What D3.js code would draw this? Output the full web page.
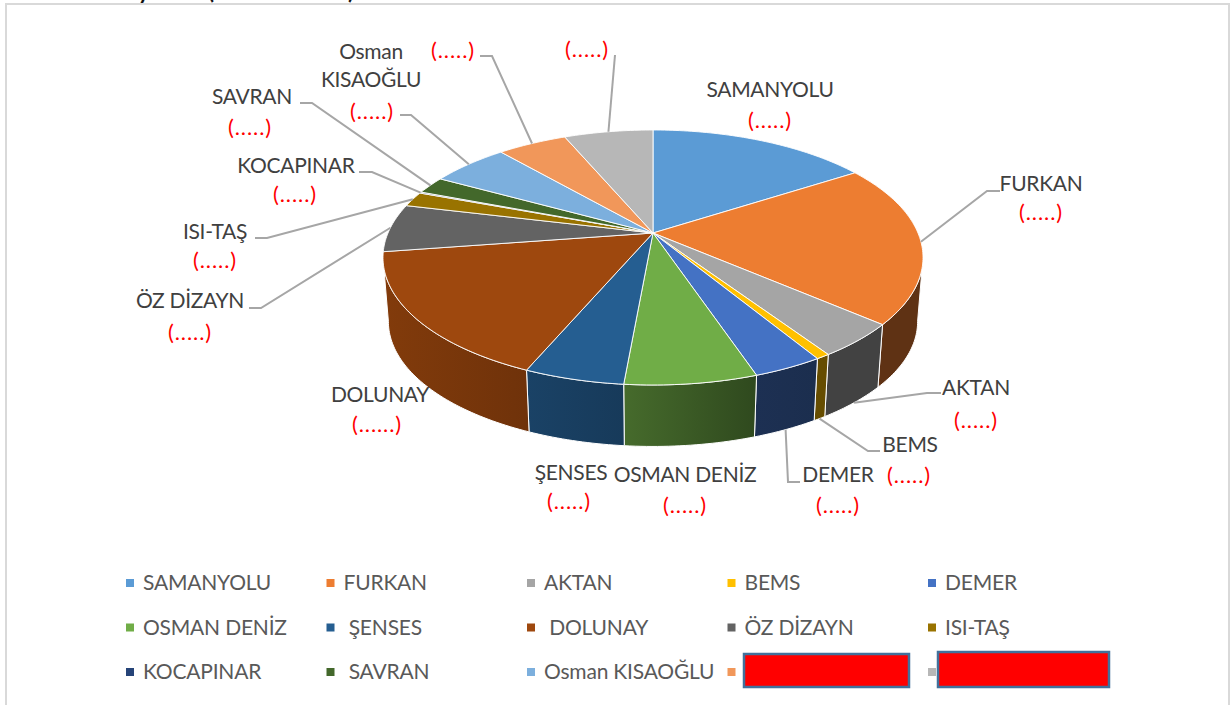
<!DOCTYPE html>
<html>
<head>
<meta charset="utf-8">
<script src="https://cdn.jsdelivr.net/npm/d3@7"></script>
<style>
  html, body { margin: 0; padding: 0; background: #fff; overflow: hidden; }
  svg { display: block; }
  text { font-family: Lato, "Open Sans", sans-serif; }
</style>
</head>
<body>
<svg id="chart" width="1231" height="705"></svg>
<script>
// slices, clockwise from the top; the last two names are hidden behind red boxes
const categories = ['SAMANYOLU', 'FURKAN', 'AKTAN', 'BEMS', 'DEMER', 'OSMAN DENİZ', 'ŞENSES', 'DOLUNAY',
  'ÖZ DİZAYN', 'ISI-TAŞ', 'KOCAPINAR', 'SAVRAN', 'Osman KISAOĞLU', '', ''];
const shares = [15.9, 20.4, 4.3, 0.7, 3.5, 6.6, 5.0, 16.2, 6.1, 1.9, 0.15, 2.2, 5.6, 5.0, 6.4];
const colors = ['#5b9bd5', '#ed7d31', '#a5a5a5', '#ffc000', '#4472c4', '#70ad47', '#255e91', '#9e480e',
  '#636363', '#997300', '#264478', '#43682b', '#7cafdd', '#f1975a', '#b7b7b7'];
const legendNames = ['SAMANYOLU', 'FURKAN', 'AKTAN', 'BEMS', 'DEMER', 'OSMAN DENİZ', ' ŞENSES', ' DOLUNAY',
  'ÖZ DİZAYN', 'ISI-TAŞ', 'KOCAPINAR', ' SAVRAN', 'Osman KISAOĞLU', '', ''];

// label text blocks: [centre x, centre y, text, kind]
const labelLayout = [
  [770, 90, 'SAMANYOLU', 'name'], [770, 120, '(.....)', 'value'],
  [1041, 184, 'FURKAN', 'name'], [1041, 212, '(.....)', 'value'],
  [976, 388, 'AKTAN', 'name'], [976, 420, '(.....)', 'value'],
  [910, 445, 'BEMS', 'name'], [909, 475, '(.....)', 'value'],
  [838, 475, 'DEMER', 'name'], [838, 505, '(.....)', 'value'],
  [685, 475, 'OSMAN DENİZ', 'name'], [685, 505, '(.....)', 'value'],
  [571, 473, 'ŞENSES', 'name'], [569, 501, '(.....)', 'value'],
  [380, 395, 'DOLUNAY', 'name'], [377, 424, '(......)', 'value'],
  [190, 301, 'ÖZ DİZAYN', 'name'], [190, 332, '(.....)', 'value'],
  [215, 232, 'ISI-TAŞ', 'name'], [215, 260, '(.....)', 'value'],
  [296, 166, 'KOCAPINAR', 'name'], [295, 194, '(.....)', 'value'],
  [252, 97, 'SAVRAN', 'name'], [250, 127, '(.....)', 'value'],
  [371, 52, 'Osman', 'name'], [371, 80, 'KISAOĞLU', 'name'], [372, 111, '(.....)', 'value'],
  [453, 50, '(.....)', 'value'], [587, 49, '(.....)', 'value']
];

// leader lines: slice index -> elbow and label end
const leaderLayout = [
  [1, [987, 191], [1000, 191]],
  [2, [927, 393], [941, 393]],
  [3, [868, 451], [880, 451]],
  [4, [788, 482], [800, 482]],
  [8, [261, 308], [249, 308]],
  [9, [267, 238], [255, 238]],
  [10, [372, 172], [359, 172]],
  [11, [312, 103], [300, 103]],
  [12, [411, 115], [400, 115]],
  [13, [492, 56], [480, 56]],
  [14, [615, 55], [615, 55]]
];

const svg = d3.select('#chart');

// perspective projection of the pie disc: a circle on the table seen from above
const cx = 653, cy = 233;
const focal = { a: 265, b: 122.8, k: -0.192 };
const wallDrop = 64.5;
const wallScale = 0.98;

const project = (angle, lower) => {
  const px = Math.sin(angle), py = -Math.cos(angle);
  const den = 1 + focal.k * py;
  const s = lower ? wallScale : 1;
  return [cx + s * focal.a * px / den, cy + (lower ? wallDrop : 0) + s * focal.b * py / den];
};

const pie = d3.pie().sort(null).value(d => d);
const slices = pie(shares);

const rad = d => d * Math.PI / 180;
const deg = r => r * 180 / Math.PI;
const sampleArc = (a0, a1, lower) => {
  const n = Math.max(2, Math.ceil(Math.abs(a1 - a0) / rad(1)));
  return d3.range(n + 1).map(i => project(a0 + (a1 - a0) * i / n, lower));
};
const line = d3.line();

// the frame, and the bottom of the title line cut off above it
const titleFragments = [[138, 'y'], [208, '('], [348, ')']];
svg.selectAll('text.title').data(titleFragments).join('text')
  .attr('class', 'title')
  .attr('x', d => d[0])
  .attr('y', -1)
  .attr('font-size', 22)
  .attr('font-weight', 700)
  .attr('fill', '#111')
  .text(d => d[1]);
svg.append('path')
  .attr('d', 'M6,712V4H1229V712')
  .attr('fill', 'none')
  .attr('stroke', '#d9d9d9')
  .attr('stroke-width', 2);

// side wall
const visibleFrom = rad(101), visibleTo = rad(259);
const wallShade = d3.scaleLinear()
  .domain([115, 150, 161, 185, 203, 259])
  .range([0.4, 0.4, 0.42, 0.62, 0.7, 0.82])
  .clamp(true);
const shadeColor = (c, f) => {
  const rgb = d3.rgb(c);
  return d3.rgb(rgb.r * f, rgb.g * f, rgb.b * f).formatHex();
};

const defs = svg.append('defs');
const walls = slices
  .map((s, i) => ({
    i,
    a0: Math.max(s.startAngle, visibleFrom),
    a1: Math.min(s.endAngle, visibleTo)
  }))
  .filter(w => w.a1 > w.a0);

walls.forEach(w => {
  const grad = defs.append('linearGradient').attr('id', 'wall' + w.i);
  grad.append('stop').attr('offset', '0%')
    .attr('stop-color', shadeColor(colors[w.i], wallShade(deg(w.a1))));
  grad.append('stop').attr('offset', '100%')
    .attr('stop-color', shadeColor(colors[w.i], wallShade(deg(w.a0))));
});

svg.selectAll('path.wall').data(walls).join('path')
  .attr('class', 'wall')
  .attr('d', w => line(sampleArc(w.a0, w.a1, false).concat(sampleArc(w.a1, w.a0, true))) + 'Z')
  .attr('fill', w => `url(#wall${w.i})`)
  .attr('stroke', '#fff')
  .attr('stroke-width', 1);

// top face
svg.selectAll('path.top').data(slices).join('path')
  .attr('class', 'top')
  .attr('d', s => line([[cx, cy]].concat(sampleArc(s.startAngle, s.endAngle, false))) + 'Z')
  .attr('fill', (s, i) => colors[i])
  .attr('stroke', '#fff')
  .attr('stroke-width', 1)
  .attr('stroke-opacity', 0.9)
  .attr('stroke-linejoin', 'round');

// leaders start on the rim at the middle of their slice
const anchorOf = i => {
  const mid = (slices[i].startAngle + slices[i].endAngle) / 2;
  return project(mid, mid > visibleFrom && mid < visibleTo);
};
svg.selectAll('path.leader').data(leaderLayout).join('path')
  .attr('class', 'leader')
  .attr('d', d => line([anchorOf(d[0]), d[1], d[2]]))
  .attr('fill', 'none')
  .attr('stroke', '#a6a6a6')
  .attr('stroke-width', 2);

// labels
svg.selectAll('text.label').data(labelLayout).join('text')
  .attr('class', 'label')
  .attr('x', d => d[0])
  .attr('y', d => d[1])
  .attr('dy', '0.35em')
  .attr('text-anchor', 'middle')
  .attr('font-size', d => d[3] === 'value' ? 22 : 21)
  .attr('letter-spacing', d => d[3] === 'value' ? 0.9 : -0.3)
  .attr('fill', d => d[3] === 'value' ? '#ff0000' : '#404040')
  .text(d => d[2]);

// legend: 5 columns x 3 rows
const columnX = d3.scalePoint().domain(d3.range(5)).range([130, 932]);
const rowY = d3.scalePoint().domain(d3.range(3)).range([583, 672]);
const legend = svg.selectAll('g.legend').data(categories).join('g')
  .attr('class', 'legend')
  .attr('transform', (d, i) => `translate(${columnX(i % 5)},${rowY(Math.floor(i / 5))})`);
legend.append('rect')
  .attr('x', -4).attr('y', -4)
  .attr('width', 8).attr('height', 8)
  .attr('fill', (d, i) => colors[i]);
legend.append('text')
  .attr('x', 13)
  .attr('dy', '0.35em')
  .attr('font-size', 21)
  .attr('letter-spacing', -0.2)
  .attr('fill', '#595959')
  .attr('xml:space', 'preserve')
  .style('white-space', 'pre')
  .text((d, i) => legendNames[i]);

// the two names blanked out in red
const redBoxes = [[744, 654, 165, 33], [938, 652, 171, 35]];
svg.selectAll('rect.mask').data(redBoxes).join('rect')
  .attr('class', 'mask')
  .attr('x', d => d[0]).attr('y', d => d[1])
  .attr('width', d => d[2]).attr('height', d => d[3])
  .attr('fill', '#ff0000')
  .attr('stroke', '#41719c')
  .attr('stroke-width', 2.5);
</script>
</body>
</html>
